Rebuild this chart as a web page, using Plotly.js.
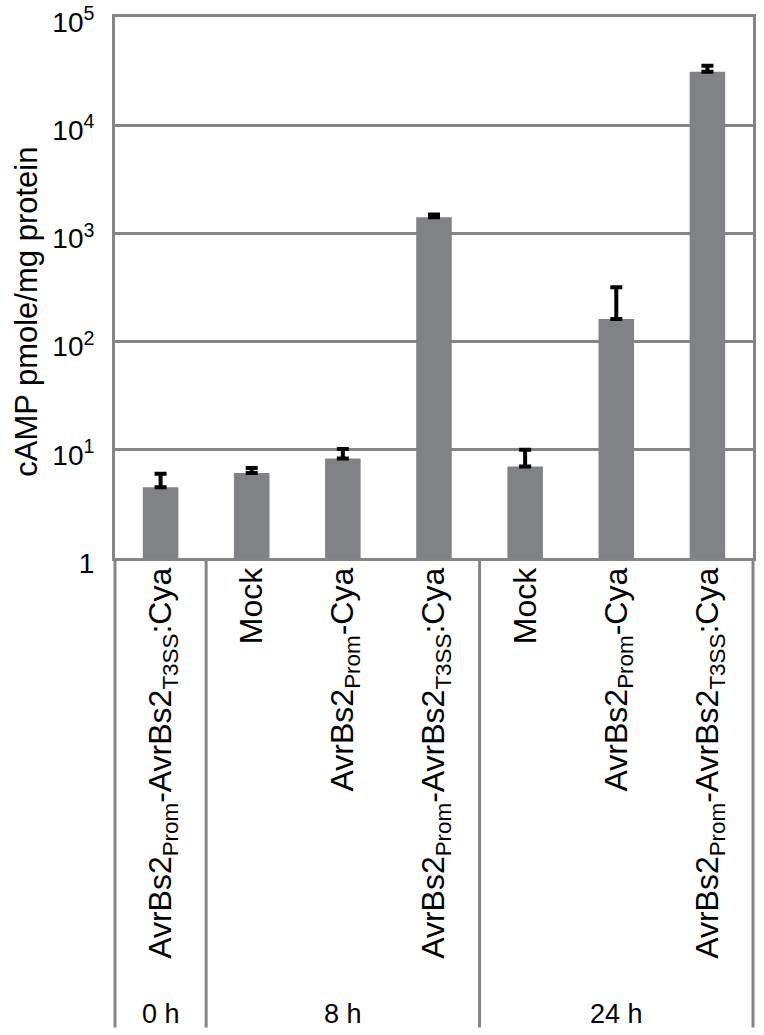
<!DOCTYPE html>
<html>
<head>
<meta charset="utf-8">
<script src="https://cdn.plot.ly/plotly-3.0.1.min.js"></script>
<style>html,body{margin:0;padding:0;background:#fff;}#chart{width:764px;height:1035px;}</style>
</head>
<body>
<div id="chart"></div>
<script>
// Categories (unique ids) and their displayed labels
const categories = ['0h_T3SS', '8h_Mock', '8h_Prom', '8h_T3SS', '24h_Mock', '24h_Prom', '24h_T3SS'];
const categoryLabels = [
  'AvrBs2<sub>Prom</sub>-AvrBs2<sub>T3SS</sub>:Cya',
  'Mock',
  'AvrBs2<sub>Prom</sub>-Cya',
  'AvrBs2<sub>Prom</sub>-AvrBs2<sub>T3SS</sub>:Cya',
  'Mock',
  'AvrBs2<sub>Prom</sub>-Cya',
  'AvrBs2<sub>Prom</sub>-AvrBs2<sub>T3SS</sub>:Cya'
];
// cAMP (pmole/mg protein) means and upper error-bar ends
const campValues = [4.5, 6.1, 8.3, 1410, 7.0, 162, 31300];
const errorTops  = [6.0, 6.8, 10.2, 1500, 10.0, 318, 35600];
// Time groups
const groupLabels = ['0 h', '8 h', '24 h'];
const groupCenters = [0, 2, 5];
const groupBoundaries = [0.5, 3.5];
// Y-axis ticks
const yTickVals = [1, 10, 100, 1000, 10000, 100000];
const yTickText = ['1', '10<sup>1</sup>', '10<sup>2</sup>', '10<sup>3</sup>', '10<sup>4</sup>', '10<sup>5</sup>'];

const FONT = 'Liberation Sans, Arial, Helvetica, sans-serif';
const LINE = '#858585';
const errPlus = campValues.map((v, i) => errorTops[i] - v);

const trace = {
  type: 'bar',
  x: categories,
  y: campValues,
  width: 0.39,
  marker: {color: '#818285', line: {width: 0}},
  error_y: {type: 'data', symmetric: false, array: errPlus, arrayminus: campValues.map(() => 0),
            color: '#000', thickness: 4, width: 6},
  hoverinfo: 'none'
};

const shapes = [];
// extend left and right frame lines down through the label area
[0, 1].forEach(px => shapes.push({type: 'line', xref: 'paper', yref: 'paper', x0: px, x1: px,
  y0: -0.868, y1: 0, line: {color: LINE, width: 3}}));
groupBoundaries.forEach(b => shapes.push({type: 'line', xref: 'x', yref: 'paper', x0: b, x1: b,
  y0: -0.868, y1: 0, line: {color: LINE, width: 3}}));

const annotations = groupLabels.map((t, i) => ({
  text: t, xref: 'x', yref: 'paper', x: groupCenters[i], y: -0.843,
  xanchor: 'center', yanchor: 'middle', showarrow: false,
  font: {family: FONT, size: 27, color: '#000'}
}));
annotations.push({
  text: 'cAMP pmole/mg protein', xref: 'paper', yref: 'paper', x: -0.138, y: 0.455,
  xanchor: 'center', yanchor: 'middle', textangle: -90, showarrow: false,
  font: {family: FONT, size: 31, color: '#000'}
});

const layout = {
  width: 764, height: 1035,
  margin: {l: 115, r: 11, t: 17, b: 477, pad: 0},
  paper_bgcolor: '#fff', plot_bgcolor: '#fff',
  showlegend: false,
  font: {family: FONT, color: '#000'},
  xaxis: {
    type: 'category', categoryorder: 'array', categoryarray: categories,
    range: [-0.5, 6.5],
    tickvals: categories, ticktext: categoryLabels, tickangle: -90,
    tickfont: {family: FONT, size: 32, color: '#000'},
    ticks: '', showgrid: false, zeroline: false,
    showline: true, linecolor: LINE, linewidth: 3, mirror: true,
    ticklabelstandoff: -6, ticklabeloverflow: 'allow', fixedrange: true
  },
  yaxis: {
    type: 'log', range: [0, 5.001],
    tickvals: yTickVals, ticktext: yTickText,
    tickfont: {family: FONT, size: 28, color: '#000'},
    ticks: '', showgrid: true, gridcolor: LINE, gridwidth: 3,
    zeroline: false, showline: true, linecolor: LINE, linewidth: 3, mirror: true,
    ticklabelstandoff: 12, ticklabelshift: 5, ticklabeloverflow: 'allow', fixedrange: true
  },
  shapes: shapes,
  annotations: annotations
};

Plotly.newPlot('chart', [trace], layout, {displayModeBar: false, staticPlot: true});
</script>
</body>
</html>
